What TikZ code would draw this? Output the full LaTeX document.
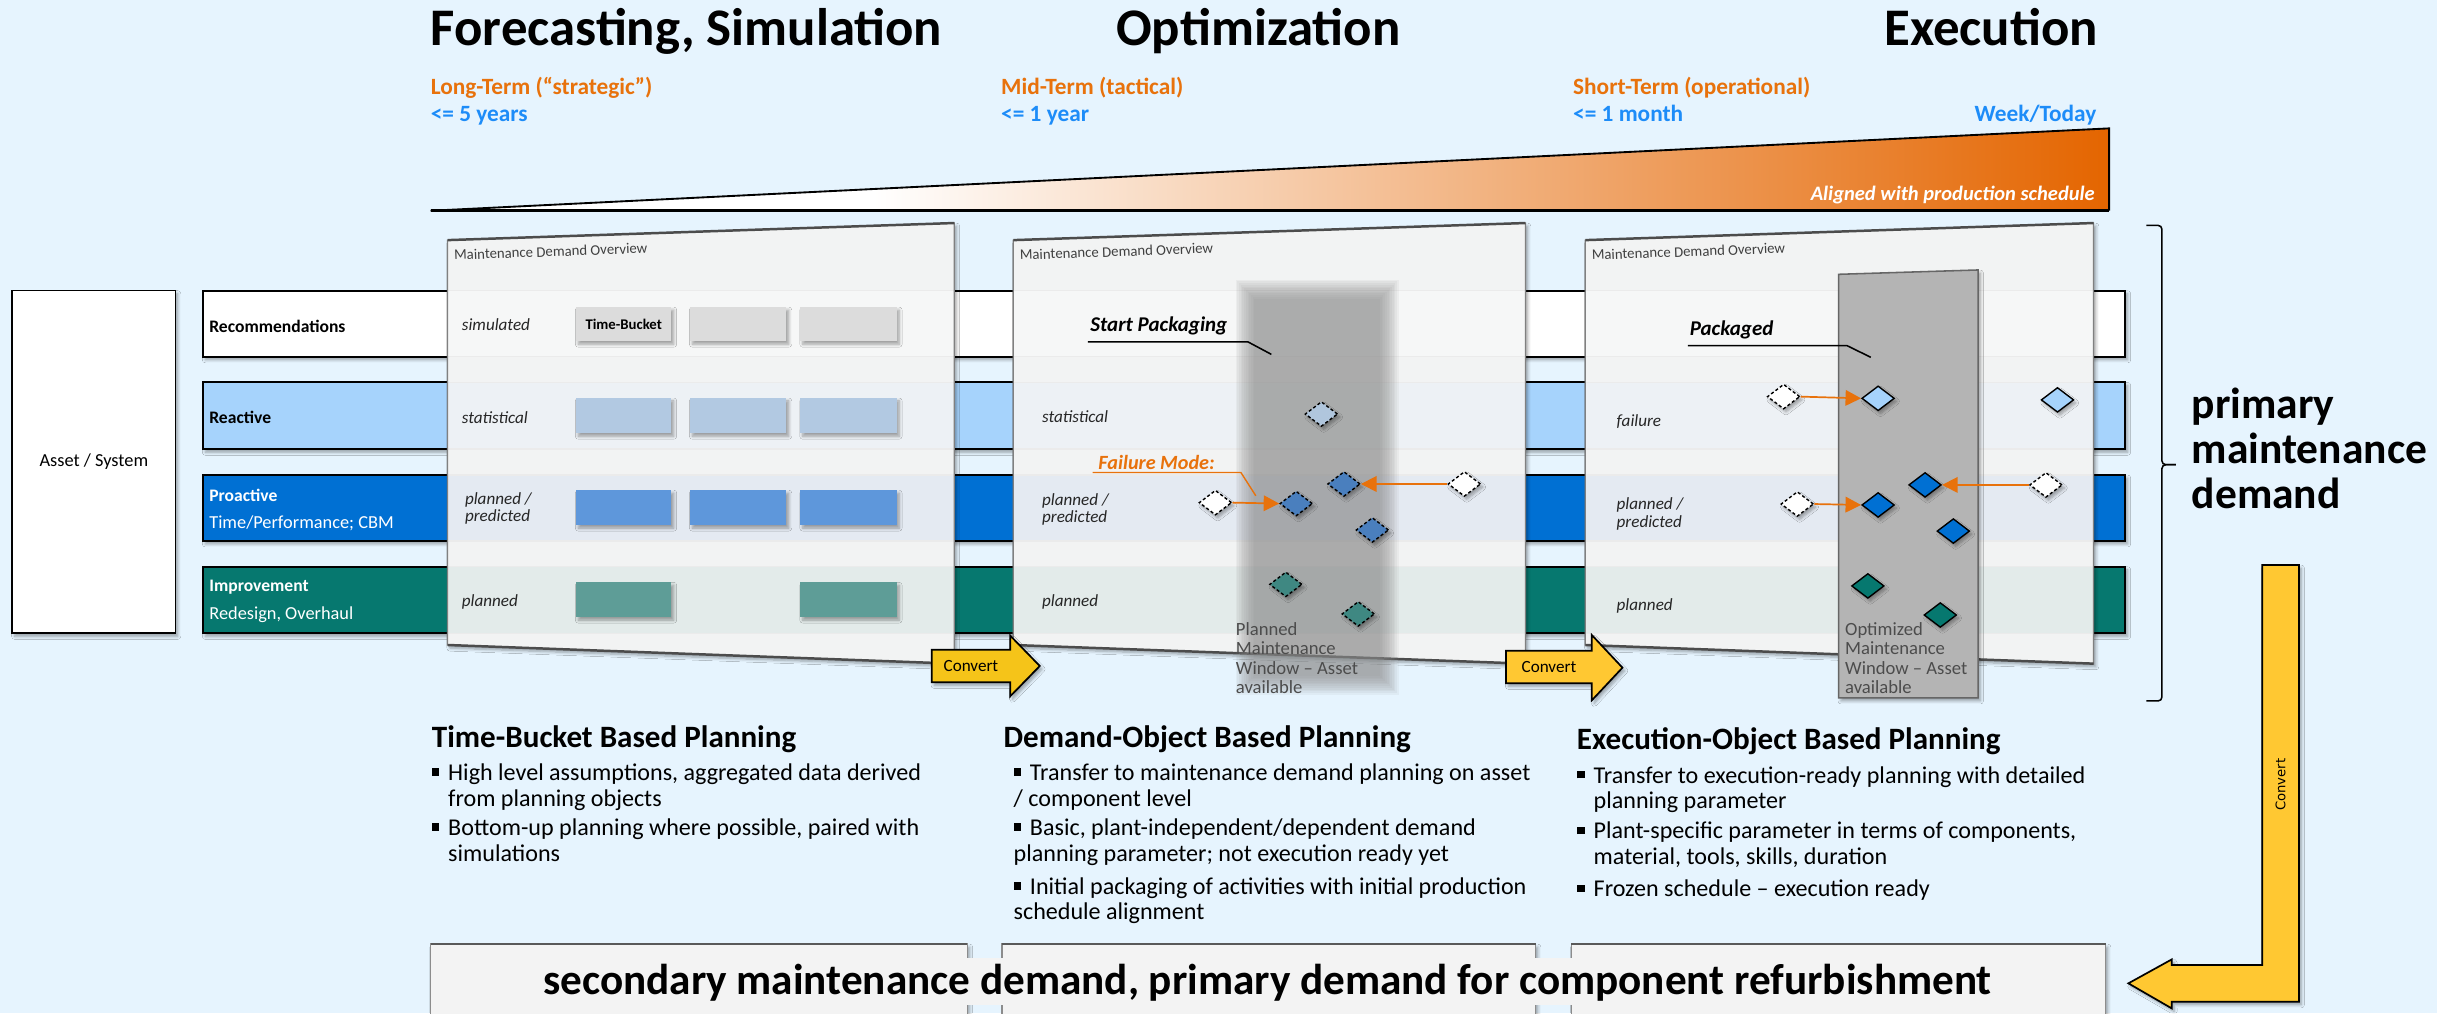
\documentclass[tikz,border=0pt]{standalone}
\usepackage{fontspec}
\setmainfont{Carlito}
\newfontfamily\dejavu{DejaVu Sans}
\usetikzlibrary{shapes.geometric,arrows.meta,shadows.blur}
\definecolor{bg}{HTML}{E6F4FE}
\definecolor{oT}{HTML}{E8720C}
\definecolor{bT}{HTML}{1D8CF8}
\definecolor{wedgeor}{HTML}{E46500}
\definecolor{reac}{HTML}{A6D3FC}
\definecolor{proa}{HTML}{0070D3}
\definecolor{impr}{HTML}{06786F}
\definecolor{pbg}{HTML}{F2F3F3}
\definecolor{bandA}{HTML}{F6F7F7}
\definecolor{bandB}{HTML}{EDF1F5}
\definecolor{bandC}{HTML}{E4EAF2}
\definecolor{bandD}{HTML}{E3EBEA}
\definecolor{gbox}{HTML}{DCDCDC}
\definecolor{lbbox}{HTML}{B2C9E2}
\definecolor{bbox}{HTML}{5E97DB}
\definecolor{tbox}{HTML}{5E9D97}
\definecolor{dstat}{HTML}{B0C6DD}
\definecolor{dblue}{HTML}{4A7FBE}
\definecolor{dteal}{HTML}{3F8882}
\definecolor{gold}{HTML}{FFC832}
\definecolor{goldb}{HTML}{F5C419}
\definecolor{win}{HTML}{B4B4B4}
\definecolor{boxf}{HTML}{F3F3F3}
\newcommand\sqb{\rule[0.2em]{0.3em}{0.3em}}
\newcommand\bul{\makebox[10.5pt][l]{\sqb}}
\newcommand\fs[1]{\fontsize{#1}{#1}\selectfont}
\begin{document}
\begin{tikzpicture}[x=1pt,y=-1pt,
  ttl/.style={font=\bfseries\fs{34}, inner sep=0pt},
  subh/.style={font=\bfseries\fs{15}, inner sep=0pt},
  rlab/.style={font=\bfseries\fs{11.3}, inner sep=0pt, anchor=west},
  rsub/.style={font=\fs{11.8}, inner sep=0pt, anchor=west},
  plab/.style={font=\itshape\fontsize{11}{11.1}\selectfont, inner sep=0pt, anchor=west, align=left, text=black!85},
  ptitle/.style={font=\fs{9.5}, inner sep=0pt, anchor=west, text=black!75, rotate=2},
  shd/.style={blur shadow={shadow blur steps=6, shadow xshift=1.5pt, shadow yshift=-2pt, shadow opacity=35}},
  rowbar/.style={draw=black, line width=1.4pt, shd},
  dmd/.style={diamond, draw=black, line width=0.9pt, minimum width=21pt, minimum height=16pt, inner sep=0pt, shd},
  dsh/.style={dmd, dash pattern=on 2pt off 1.5pt},
  oarr/.style={draw=oT, line width=1.1pt, -{Triangle[length=10pt,width=10pt]}},
  conv/.style={fill=gold, draw=black, line width=1.1pt, shd},
  convt/.style={font=\fs{11}, inner sep=0pt},
  bhead/.style={font=\bfseries\fs{20}, inner sep=0pt, anchor=west, text height=0.7em, text depth=0.2em},
  btxt/.style={font=\fs{15.5}, inner sep=0pt, anchor=west, text height=0.7em, text depth=0.2em},
  wintxt/.style={font=\fontsize{12}{12.4}\selectfont, align=left, anchor=west, text=black!70, inner sep=0pt},
  callout/.style={font=\bfseries\itshape\fs{13.5}, inner sep=0pt, anchor=west}
]
\useasboundingbox (0,0) rectangle (1568,652);
\fill[bg] (0,0) rectangle (1568,652);

% ---------- titles ----------
\node[ttl, anchor=base west] (t1) at (277,29) {Forecasting, Simulation};
\node[ttl, anchor=base west] (t2) at (718,29) {Optimization};
\node[ttl, anchor=base east] (t3) at (1350,29) {Execution};
\node[subh, oT, anchor=base west] (s1) at (277,61) {Long-Term (``strategic'')};
\node[subh, bT, anchor=base west] (s1b) at (277,78) {<= 5 years};
\node[subh, oT, anchor=base west] (s2) at (644,61) {Mid-Term (tactical)};
\node[subh, bT, anchor=base west] (s2b) at (644,78) {<= 1 year};
\node[subh, oT, anchor=base west] (s3) at (1012,61) {Short-Term (operational)};
\node[subh, bT, anchor=base west] (s3b) at (1012,78) {<= 1 month};
\node[subh, bT, anchor=base east] (s4) at (1349,78) {Week/Today};

% ---------- wedge ----------
\coordinate (wL) at (277,135.6);
\coordinate (wTR) at (1357,82.6);
\coordinate (wBR) at (1357,135.6);
\begin{scope}
  \clip (wL) -- (wTR) -- (wBR) -- cycle;
  \fill[white] (270,80) rectangle (563,137);
  \shade[left color=white, right color=wedgeor] (562,80) rectangle (1357,137);
\end{scope}
\draw[line width=1.2pt] (wL) -- (wTR) -- (wBR);
\draw[line width=2pt] (wL) -- (wBR);
\node[font=\bfseries\itshape\fs{13.2}, white, inner sep=0pt, anchor=base east] (aligned) at (1348,129) {Aligned with production schedule};

% ---------- asset box ----------
\node[draw=black, line width=1.2pt, fill=white, shd, minimum width=105pt, minimum height=220.5pt, font=\fs{11.8}] (asset) at (60.4,297.2) {Asset / System};

% ---------- row bars ----------
\path[rowbar, fill=white] (130.6,187) rectangle (1367.5,229.5);
\path[rowbar, fill=reac] (130.6,246) rectangle (1367.5,289);
\path[rowbar, fill=proa] (130.6,305.6) rectangle (1367.5,348);
\path[rowbar, fill=impr] (130.6,364.6) rectangle (1367.5,407.5);
\node[rlab] (rRec) at (134.5,209.8) {Recommendations};
\node[rlab] (rRea) at (134.5,268.5) {Reactive};
\node[rlab, white] (rPro) at (134.5,318.5) {Proactive};
\node[rsub, white] (rPro2) at (134.5,336.7) {Time/Performance; CBM};
\node[rlab, white] (rImp) at (134.5,377.5) {Improvement};
\node[rsub, white] (rImp2) at (134.5,395.7) {Redesign, Overhaul};

% ---------- panels ----------
\foreach \L/\R/\n in {288/614/1, 652/981.5/2, 1020/1347/3} {
  \path[shd, fill=pbg] (\L,154.5) -- (\R,143.5) -- (\R,427) -- (\L,415) -- cycle;
  \begin{scope}
    \clip (\L,154.5) -- (\R,143.5) -- (\R,427) -- (\L,415) -- cycle;
    \fill[bandA] (\L,187) rectangle (\R,229.5);
    \fill[bandB] (\L,246) rectangle (\R,289);
    \fill[bandC] (\L,305.6) rectangle (\R,348);
    \fill[bandD] (\L,364.6) rectangle (\R,407.5);
    \foreach \yy in {187,229.5,246,289,305.6,348,364.6,407.5}
      \draw[black!8, line width=0.9pt] (\L,\yy) -- (\R,\yy);
  \end{scope}
  \draw[black!50, line width=0.8pt] (\L,154.5) -- (\R,143.5) -- (\R,427) -- (\L,415) -- cycle;
  \draw[black!70, line width=1.6pt] (\L,154.5) -- (\R,143.5);
  \draw[black!70, line width=1.6pt] (\L,415) -- (\R,427);
  \node[ptitle] (pt\n) at ({\L+4},164) {Maintenance Demand Overview};
}

% panel 1 content
\node[plab] (p1a) at (297,208.7) {simulated};
\node[plab] (p1b) at (297,268.7) {statistical};
\node[plab] (p1c) at (299,326.9) {planned /\\predicted};
\node[plab] (p1d) at (297,387.1) {planned};
\foreach \a/\b in {370.6/432, 444/506, 515/577} {
  \path[shd, fill=gbox] (\a,197.5) rectangle (\b,219.5);
  \path[shd, fill=lbbox] (\a,256) rectangle (\b,278.7);
  \path[shd, fill=bbox] (\a,315.3) rectangle (\b,337.8);
}
\path[shd, fill=tbox] (370.6,374.6) rectangle (432,397);
\path[shd, fill=tbox] (515,374.6) rectangle (577,397);
\node[font=\bfseries\fs{9.5}, inner sep=0pt] (tb) at (401.3,208.5) {Time-Bucket};

% panel 2 content: soft grey maintenance window
\foreach \i in {0,...,11}
  \fill[black!45, opacity=0.085] ({795+1.1*\i},{180+1.1*\i}) rectangle ({900-1.1*\i},{447-1.1*\i});
\node[plab] (p2b) at (670.3,268) {statistical};
\node[plab] (p2c) at (670.3,327.9) {planned /\\predicted};
\node[plab] (p2d) at (670.3,387) {planned};
\node[callout] (sp) at (701.4,210) {Start Packaging};
\draw[black, line width=1pt] (700,220) -- (803,220) -- (818,228);
\node[callout, oT, font=\bfseries\itshape\fs{13}] (fm) at (706.5,297.5) {Failure Mode:};
\draw[oT, line width=0.9pt] (703,304) -- (798.4,304) -- (808,319);
\node[wintxt] (pmw) at (795,423.5) {Planned\\Maintenance\\Window -- Asset\\available};
\node[dsh, fill=dstat] (d2s) at (850.2,266.4) {};
\node[dsh, fill=white] (w2a) at (782,323.4) {};
\node[dsh, fill=dblue] (d2b1) at (834,324) {};
\node[dsh, fill=dblue] (d2b2) at (864.7,311.4) {};
\node[dsh, fill=white] (w2b) at (942.2,311.4) {};
\node[dsh, fill=dblue] (d2b3) at (883,341) {};
\node[dsh, fill=dteal] (d2t1) at (827.3,376) {};
\node[dsh, fill=dteal] (d2t2) at (873.9,395) {};
\draw[oarr] (w2a.east) -- (d2b1.west);
\draw[oarr] (w2b.west) -- (d2b2.east);

% panel 3 content
\path[shd, fill=win, draw=black!60, line width=1pt] (1183,176.5) -- (1272.7,173.7) -- (1272.7,449) -- (1183,449) -- cycle;
\node[plab] (p3b) at (1040,271.3) {failure};
\node[plab] (p3c) at (1040,330.6) {planned /\\predicted};
\node[plab] (p3d) at (1040,389.9) {planned};
\node[callout] (pk) at (1087,212.3) {Packaged};
\draw[black, line width=1pt] (1086,222.4) -- (1188.4,222.4) -- (1203.7,229.9);
\node[wintxt] (omw) at (1187,423.5) {Optimized\\Maintenance\\Window -- Asset\\available};
\node[dsh, fill=white] (w3a) at (1147.6,255.2) {};
\node[dmd, fill=reac] (d3r1) at (1208.4,256.3) {};
\node[dmd, fill=reac] (d3r2) at (1323.8,257.3) {};
\node[dsh, fill=white] (w3b) at (1156.4,324.3) {};
\node[dmd, fill=proa] (d3b1) at (1208.4,324.9) {};
\node[dmd, fill=proa] (d3b2) at (1238.6,312) {};
\node[dsh, fill=white] (w3c) at (1316.4,312) {};
\node[dmd, fill=proa] (d3b3) at (1256.8,341.7) {};
\node[dmd, fill=impr] (d3t1) at (1201.8,377) {};
\node[dmd, fill=impr] (d3t2) at (1248.4,395.7) {};
\draw[oarr] (w3a.east) -- (d3r1.west);
\draw[oarr] (w3b.east) -- (d3b1.west);
\draw[oarr] (w3c.west) -- (d3b2.east);

% ---------- convert arrows ----------
\path[conv, fill=goldb] (599.5,418) -- (650,418) -- (650,409) -- (669,428.5) -- (650,448) -- (650,439) -- (599.5,439) -- cycle;
\node[convt] (cv1) at (624.7,428.8) {Convert};
\path[conv] (969,418.7) -- (1024.2,418.7) -- (1024.2,408.6) -- (1043.9,429.6) -- (1024.2,450.6) -- (1024.2,439.6) -- (969,439.6) -- cycle;
\node[convt] (cv2) at (996.6,429.4) {Convert};

% ---------- bracket + primary demand ----------
\draw[line width=1pt, rounded corners=2.5pt] (1381,145) -| (1391,299) -- (1400,299);
\draw[line width=1pt, rounded corners=2.5pt] (1400,299) -- (1391,299) |- (1381,451);
\node[font=\bfseries\fs{28}, inner sep=0pt, anchor=base west] (pm1) at (1410,269) {primary};
\node[font=\bfseries\fs{28}, inner sep=0pt, anchor=base west] (pm2) at (1410,298) {maintenance};
\node[font=\bfseries\fs{28}, inner sep=0pt, anchor=base west] (pm3) at (1410,327) {demand};

% ---------- text blocks ----------
\node[bhead] (h1) at (277.7,478.5) {Time-Bucket Based Planning};
\node[btxt] (c1l1) at (277.7,499.7) {\bul High level assumptions, aggregated data derived};
\node[btxt] (c1l2) at (288.2,516.5) {from planning objects};
\node[btxt] (c1l3) at (277.7,535) {\bul Bottom-up planning where possible, paired with};
\node[btxt] (c1l4) at (288.2,552) {simulations};

\node[bhead] (h2) at (645.5,478.5) {Demand-Object Based Planning};
\node[btxt] (c2l1) at (652,499.7) {\bul Transfer to maintenance demand planning on asset};
\node[btxt] (c2l2) at (652,516.5) {/ component level};
\node[btxt] (c2l3) at (652,535) {\bul Basic, plant-independent/dependent demand};
\node[btxt] (c2l4) at (652,552) {planning parameter; not execution ready yet};
\node[btxt] (c2l5) at (652,573) {\bul Initial packaging of activities with initial production};
\node[btxt] (c2l6) at (652,589.4) {schedule alignment};

\node[bhead] (h3) at (1014.4,479.5) {Execution-Object Based Planning};
\node[btxt] (c3l1) at (1014.7,501.4) {\bul Transfer to execution-ready planning with detailed};
\node[btxt] (c3l2) at (1025.2,518) {planning parameter};
\node[btxt] (c3l3) at (1014.7,537.3) {\bul Plant-specific parameter in terms of components,};
\node[btxt] (c3l4) at (1025.2,554) {material, tools, skills, duration};
\node[btxt] (c3l5) at (1014.7,574.4) {\bul Frozen schedule -- execution ready};

% ---------- bottom boxes ----------
\foreach \a/\b in {277/622.4, 644.7/988, 1011/1354.7} {
  \path[shd, fill=boxf, draw=black!45, line width=0.8pt] (\a,607.4) rectangle (\b,668);
  \draw[black!65, line width=1.5pt] (\a,607.4) -- (\b,607.4);
}
\fill[boxf] (340,616.6) rectangle (1350,646.7);
\node[font=\bfseries\fs{27.8}, inner sep=0pt, anchor=base] (ban) at (815.5,640) {secondary maintenance demand, primary demand for component refurbishment};

% ---------- L arrow ----------
\path[conv] (1455.6,363.5) -- (1479.2,363.5) -- (1479.2,644.5) -- (1397.3,644.5) -- (1397.3,648.8) -- (1369.4,632.7) -- (1397.3,617.3) -- (1397.3,620.9) -- (1455.6,620.9) -- cycle;
\node[rotate=90, font=\dejavu\fontsize{8.5}{10}\selectfont, inner sep=0pt] (cv3) at (1467.4,505) {Convert};
\end{tikzpicture}
\end{document}
